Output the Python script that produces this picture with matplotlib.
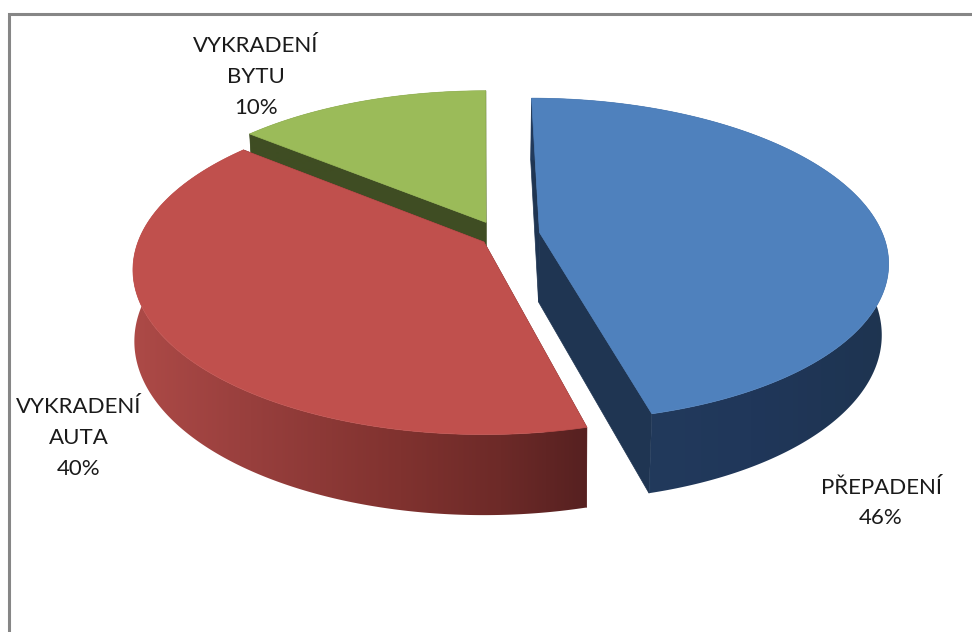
import numpy as np
import matplotlib
matplotlib.use('Agg')
import matplotlib.pyplot as plt
from matplotlib.colors import to_rgb
from matplotlib.patches import Polygon

# Drawn shares differ from the printed labels (green slice is bigger than 10%)
categories = ['PŘEPADENÍ', 'VYKRADENÍ\nAUTA', 'VYKRADENÍ\nBYTU']
shares = [46, 40, 14]
pct_labels = ['46%', '40%', '10%']

top_colors = ['#4f81bd', '#c0504d', '#9bbb59']
radial_colors = ['#1f3552', '#5e2423', '#3f4d23']
# shade of the outer wall, from left to right of the picture
wall_stops = [
    ([540, 650, 750, 890], ['#213a5c', '#223a5c', '#20375a', '#1e3450']),
    ([133, 250, 400, 500, 590], ['#ad4a47', '#983f3d', '#80322f', '#6d2a28', '#552020']),
    ([240, 490], ['#3f4d23', '#3f4d23']),
]
# slice offset inside the pie plane
offsets = [(0.162, 0.06), (0.0, 0.0), (0.006, 0.125)]
label_pos = [(881, 503), (79, 438), (256, 77)]
# how much the lower rim shrinks in x, per slice
low_x = [0.983, 0.996, 0.983]

# picture geometry, in pixels
cx, cy = 484, 242
rx, ry = 346, 160
persp = 0.169
depth = 70
low_y = 1.055


def project(u, v, shrink=None):
    w = 1 + persp * v
    x = rx * u / w
    y = ry * v / w
    if shrink is not None:
        return cx + x * shrink, cy - (y * low_y - depth)
    return cx + x, cy - y


fig = plt.figure(figsize=(9.72, 6.32), dpi=100)
ax = fig.add_axes([0, 0, 1, 1])
ax.axis('off')

# grey frame, only top and left are inside the picture
ax.plot([8.5, 8.5, 972], [632, 14, 14], color='#868686', lw=2.2, solid_joinstyle='miter')

edges = np.concatenate([[0], np.cumsum(shares)]) / np.sum(shares) * 2 * np.pi

# back to front: green, red, blue
for i in [2, 1, 0]:
    du, dv = offsets[i]
    t = np.linspace(edges[i], edges[i + 1], 300)
    u = np.sin(t) + du
    v = np.cos(t) + dv
    tx, ty = project(u, v)
    bx, by = project(u, v, low_x[i])
    hx, hy = project(du, dv)
    hbx, hby = project(du, dv, low_x[i])

    # flat walls along both cut edges
    for k in [0, -1]:
        ax.add_patch(Polygon([(hx, hy), (tx[k], ty[k]), (bx[k], by[k]), (hbx, hby)],
                             fc=radial_colors[i], ec=radial_colors[i], lw=0.5, zorder=1 + (2 - i) * 3))

    # outer wall: horizontal gradient image clipped to the wall outline
    stops, cols = wall_stops[i]
    cols = np.array([to_rgb(c) for c in cols])
    xs = np.arange(100, 920)
    grad = np.column_stack([np.interp(xs, stops, cols[:, c]) for c in range(3)])[np.newaxis, :, :]
    wall = Polygon(np.column_stack([np.r_[tx, bx[::-1]], np.r_[ty, by[::-1]]]),
                   fc='none', ec='none', transform=ax.transData)
    ax.add_patch(wall)
    img = ax.imshow(grad, extent=(100, 920, 632, 0), aspect='auto', interpolation='bilinear',
                    zorder=2 + (2 - i) * 3)
    img.set_clip_path(wall)

    # top face
    ax.add_patch(Polygon(np.column_stack([np.r_[hx, tx], np.r_[hy, ty]]),
                         fc=top_colors[i], ec=top_colors[i], lw=0.5, zorder=3 + (2 - i) * 3))

for name, pct, (x, y) in zip(categories, pct_labels, label_pos):
    ax.text(x, y, name + '\n' + pct, ha='center', va='center', fontsize=16,
            family='Lato', color='#1a1a1a', linespacing=1.68, zorder=20)

ax.set_xlim(0, 972)
ax.set_ylim(632, 0)

plt.savefig('out.png', dpi=100)
